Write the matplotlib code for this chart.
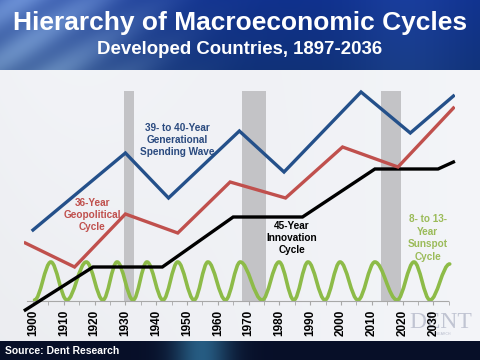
import numpy as np
import matplotlib
matplotlib.use("Agg")
import matplotlib.pyplot as plt
from matplotlib.path import Path
from matplotlib.patches import PathPatch

# ── data (heights in arbitrary chart units) ──
spend_years = [1900, 1930, 1944, 1967, 1981.5, 2006.5, 2022.5, 2036.5]
spend_vals = [71, 148, 103, 170, 129, 209, 168, 205]

geo_years = [1897.5, 1913.5, 1930, 1947, 1964, 1982, 2000.5, 2018.5, 2036.5]
geo_vals = [58, 34, 87, 68, 119, 103, 154, 134, 193]

innov_years = [1897.5, 1919.5, 1942, 1965, 1987.5, 2011, 2031.5, 2036.5]
innov_vals = [-9, 34, 34, 84, 84, 132, 132, 139]

sun_years = [1900.5, 1905.8, 1911, 1917.3, 1922.7, 1927.3, 1932.5, 1937, 1942.2,
             1947, 1952.3, 1956.8, 1962.5, 1967.3, 1974.4, 1979.9, 1984.7, 1989.3,
             1994.8, 1999.7, 2005.5, 2011, 2018.2, 2023.7, 2028.9, 2035.3]
sun_vals = [1, 39, 1, 39, 1, 39, 1, 39, 1, 39, 1, 39, 1, 39, 1, 39, 1, 39,
            1, 39, 1, 39, 1, 39, 1, 37]

crisis_start = [1929.5, 1967.8, 2013.0]
crisis_end = [1932.8, 1975.6, 2019.4]
crisis_top = 210

tick_years = list(range(1900, 2031, 10))

BLUE = "#24508a"
RED = "#c0504d"
GREEN = "#8dbb48"

fig = plt.figure(figsize=(4.8, 3.6), dpi=100)

# ── background: banner, plot area, footer ──
bg = fig.add_axes([0, 0, 1, 1], zorder=0)
bg.set_xlim(0, 480); bg.set_ylim(360, 0); bg.axis("off")
W = 480
xx = np.linspace(0, 1, W)

# banner 0-70
yy = np.linspace(0, 1, 70)[:, None]
X = xx[None, :]
streak = 0.5 + 0.5 * np.sin((X * 40 + yy * 9))
glow_left = np.exp(-((X - 0.05) / 0.25) ** 2) * (0.45 + 0.25 * streak)
glow_right = np.exp(-((X - 0.85) / 0.12) ** 2) * 0.25
banner = np.zeros((70, W, 3))
banner[..., 0] = 0.06 + 0.50 * glow_left + 0.15 * glow_right
banner[..., 1] = 0.19 + 0.52 * glow_left + 0.2 * glow_right
banner[..., 2] = 0.55 + 0.40 * glow_left + 0.25 * glow_right - 0.08 * yy
bg.imshow(np.clip(banner, 0, 1), extent=(0, 480, 70, 0), aspect="auto")

# plot area 70-341
yy2 = np.linspace(0, 1, 271)[:, None]
area = np.zeros((271, W, 3))
base = 0.935 + 0.03 * X + 0.02 * np.exp(-((X - 0.1) / 0.3) ** 2) * (1 - yy2)
area[..., 0] = base - 0.01
area[..., 1] = base - 0.005
area[..., 2] = base + 0.01
bg.imshow(np.clip(area, 0, 1), extent=(0, 480, 341, 70), aspect="auto")

# footer 341-360
g = np.exp(-((X - 0.42) / 0.06) ** 2)
foot = np.zeros((19, W, 3))
foot[..., 0] = 0.03 + 0.12 * g
foot[..., 1] = 0.06 + 0.30 * g
foot[..., 2] = 0.16 + 0.35 * g
bg.imshow(np.clip(foot, 0, 1), extent=(0, 480, 360, 341), aspect="auto")

# ── chart ──
ax = fig.add_axes([23.76 / 480, 44 / 360, 431.2 / 480, 236 / 360], zorder=1)
ax.patch.set_alpha(0)
ax.set_xlim(1897, 2037)
ax.set_ylim(-15, 221)

for s, e in zip(crisis_start, crisis_end):
    ax.bar(s, crisis_top, width=e - s, align="edge", color="#c3c3c6", zorder=1)

# sunspot cycle drawn as smooth S-curves between extrema
verts = [(sun_years[0], sun_vals[0])]
codes = [Path.MOVETO]
for (x0, y0), (x1, y1) in zip(zip(sun_years[:-1], sun_vals[:-1]), zip(sun_years[1:], sun_vals[1:])):
    dx = x1 - x0
    verts += [(x0 + 0.36 * dx, y0), (x1 - 0.36 * dx, y1), (x1, y1)]
    codes += [Path.CURVE4] * 3
ax.add_patch(PathPatch(Path(verts, codes), fill=False, edgecolor=GREEN, lw=2.6,
                       capstyle="round", zorder=2))

ax.plot(innov_years, innov_vals, color="black", lw=2.4, zorder=3, clip_on=False,
        solid_joinstyle="miter")
ax.plot(geo_years, geo_vals, color=RED, lw=2.4, zorder=3, solid_joinstyle="miter")
ax.plot(spend_years, spend_vals, color=BLUE, lw=2.4, zorder=3, solid_joinstyle="miter")

fkw = dict(family="Liberation Sans", weight="bold", fontsize=7.2, ha="center",
           va="center", linespacing=1.3)
ax.text(1946.8, 161, "39- to 40-Year\nGenerational\nSpending Wave", color="#2a4a7f", **fkw)
ax.text(1919.2, 86, "36-Year\nGeopolitical\nCycle", color=RED, **fkw)
ax.text(1984.1, 63, "45-Year\nInnovation\nCycle", color="black", **fkw)
ax.text(2028.2, 63, "8- to 13-\nYear\nSunspot\nCycle", color="#9bbb59", **fkw)

for side in ["top", "right", "left"]:
    ax.spines[side].set_visible(False)
ax.spines["bottom"].set_position(("data", 0))
ax.spines["bottom"].set_bounds(1898, 2034.7)
ax.spines["bottom"].set_color("#a8a8a8")
ax.set_yticks([])
ax.set_xticks(tick_years)
ax.set_xticks(list(range(1905, 2036, 10)), minor=True)
ax.set_xticklabels([str(y) for y in tick_years], rotation=90, fontsize=8.5,
                   fontweight="bold", family="Liberation Sans")
ax.tick_params(axis="x", which="both", length=3, color="#a8a8a8", pad=3.5)

# ── titles & footer text ──
fig.text(0.5, 1 - 23 / 360, "Hierarchy of Macroeconomic Cycles", color="white",
         fontsize=19, weight="bold", family="Liberation Sans", ha="center", va="center")
fig.text(0.5, 1 - 49 / 360, "Developed Countries, 1897-2036", color="white",
         fontsize=13.4, weight="bold", family="Liberation Sans", ha="center", va="center")
fig.text(5 / 480, 1 - 351.5 / 360, "Source: Dent Research", color="white", fontsize=7.5,
         weight="bold", family="Liberation Sans", ha="left", va="center")
# faint logo sits behind the last tick labels, as in the original
fig.text(441 / 480, 1 - 322 / 360, "DENT", color="#b8bccc", fontsize=17,
         family="Liberation Serif", ha="center", va="center", alpha=0.85, zorder=0.5)
fig.text(441 / 480, 1 - 334 / 360, "RESEARCH", color="#b8bccc", fontsize=2.5,
         family="Liberation Sans", ha="center", va="center", zorder=0.5)

fig.savefig("out.png", dpi=100)
